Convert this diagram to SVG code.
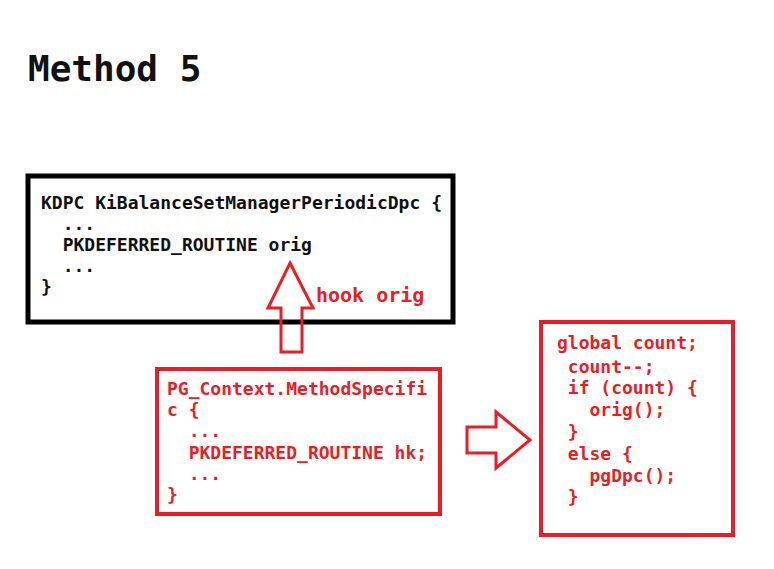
<svg xmlns="http://www.w3.org/2000/svg" width="774" height="569" viewBox="0 0 774 569">
<style>
.code{font-family:"DejaVu Sans Mono","Liberation Mono",monospace;font-weight:bold;font-size:18px;white-space:pre}
.blk{fill:#111111}
.red{fill:#ed1c24}
.boxk{fill:#ffffff;stroke:#000000;stroke-width:5}
.boxr{fill:#ffffff;stroke:#ed1c24;stroke-width:4}
.arr{fill:none;stroke:#ed1c24;stroke-width:3;stroke-linejoin:miter}
</style>
<rect width="774" height="569" fill="#ffffff"/>
<text x="28" y="81" class="blk" style="font-family:'DejaVu Sans Mono','Liberation Mono',monospace;font-weight:bold;font-size:36px">Method 5</text>
<g id="kdpc">
<rect class="boxk" x="28" y="176" width="425" height="146"/>
<text class="code blk" xml:space="preserve"><tspan x="41" y="209">KDPC KiBalanceSetManagerPeriodicDpc {</tspan><tspan x="41" y="230">  ...</tspan><tspan x="41" y="251">  PKDEFERRED_ROUTINE orig</tspan><tspan x="41" y="272">  ...</tspan><tspan x="41" y="293">}</tspan></text>
</g>
<g id="pgctx">
<rect class="boxr" x="157" y="369" width="283" height="145"/>
<text class="code red" xml:space="preserve"><tspan x="167" y="395">PG_Context.MethodSpecifi</tspan><tspan x="167" y="416">c {</tspan><tspan x="167" y="437">  ...</tspan><tspan x="167" y="459">  PKDEFERRED_ROUTINE hk;</tspan><tspan x="167" y="480">  ...</tspan><tspan x="167" y="501">}</tspan></text>
</g>
<g id="hook">
<rect class="boxr" x="541" y="322" width="192" height="213"/>
<text class="code red" xml:space="preserve"><tspan x="557" y="349">global count;</tspan><tspan x="557" y="373"> count--;</tspan><tspan x="557" y="394"> if (count) {</tspan><tspan x="557" y="416">   orig();</tspan><tspan x="557" y="438"> }</tspan><tspan x="557" y="460"> else {</tspan><tspan x="557" y="482">   pgDpc();</tspan><tspan x="557" y="503"> }</tspan></text>
</g>
<g id="connectors">
<polygon class="arr" points="290,263 313,308 302,308 302,352 281,352 281,308 268,308"/>
<text x="316" y="302" class="red" style="font-family:'DejaVu Sans Mono','Liberation Mono',monospace;font-weight:bold;font-size:20px">hook orig</text>
<polygon class="arr" points="530,440 496,412 496,427 467,427 467,453 496,453 496,468"/>
</g>
</svg>
